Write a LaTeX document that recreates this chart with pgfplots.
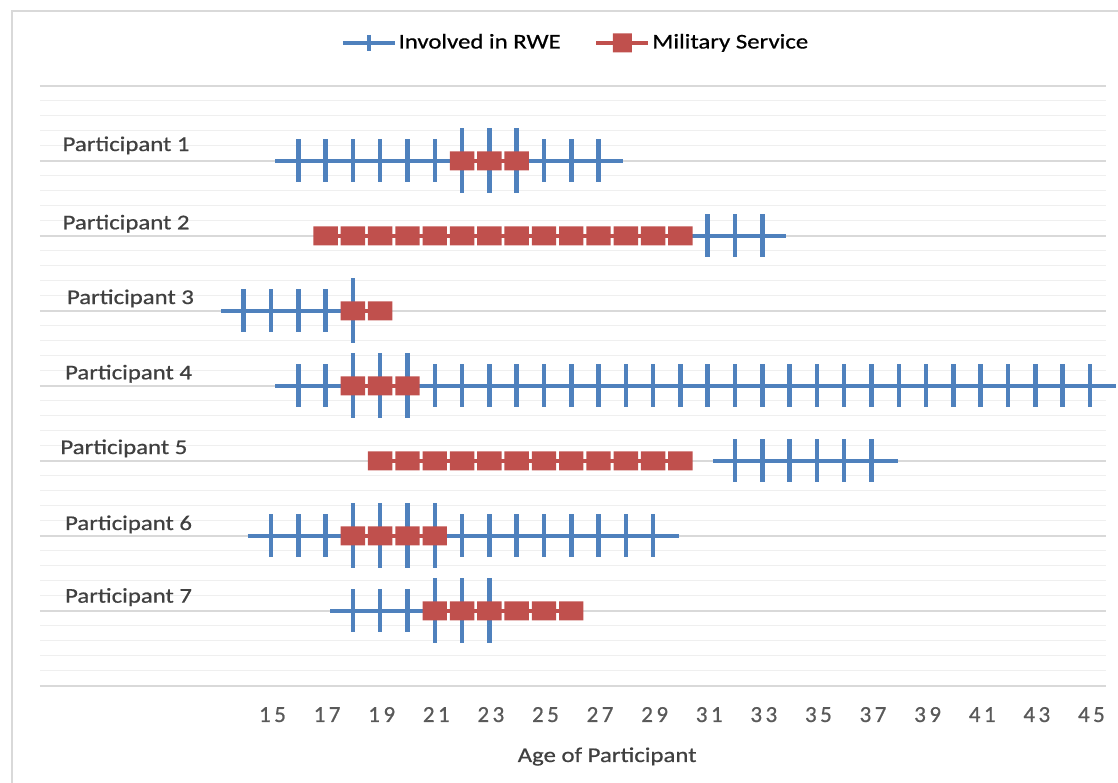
\documentclass[border=0pt]{standalone}
\usepackage{fontspec}
\setmainfont{Carlito}[FakeStretch=1.18,FakeBold=0.7]
\newfontfamily\tickfont{Carlito}[LetterSpace=15,FakeBold=0.7]
\usepackage{pgfplots}
\pgfplotsset{compat=1.18}
\definecolor{bl}{HTML}{4F81BD}
\definecolor{rd}{HTML}{C0504D}
\definecolor{majg}{HTML}{D9D9D9}
\definecolor{ming}{HTML}{EFEFEF}
\definecolor{lab}{HTML}{404040}
\definecolor{tickc}{HTML}{595959}
\pgfdeclareplotmark{rsq}{%
  \pgfsetcornersarced{\pgfpoint{3pt}{3pt}}%
  \pgfpathmoveto{\pgfpoint{0pt}{-9.5pt}}%
  \pgfpathlineto{\pgfpoint{12.2pt}{-9.5pt}}%
  \pgfpathlineto{\pgfpoint{12.2pt}{9.5pt}}%
  \pgfpathlineto{\pgfpoint{-12.2pt}{9.5pt}}%
  \pgfpathlineto{\pgfpoint{-12.2pt}{-9.5pt}}%
  \pgfpathclose
  \pgfusepathqfill}
\pgfdeclareplotmark{rsqL}{%
  \pgfsetcornersarced{\pgfpoint{3pt}{3pt}}%
  \pgfpathmoveto{\pgfpoint{0pt}{-9.5pt}}%
  \pgfpathlineto{\pgfpoint{9.5pt}{-9.5pt}}%
  \pgfpathlineto{\pgfpoint{9.5pt}{9.5pt}}%
  \pgfpathlineto{\pgfpoint{-9.5pt}{9.5pt}}%
  \pgfpathlineto{\pgfpoint{-9.5pt}{-9.5pt}}%
  \pgfpathclose
  \pgfusepathqfill}
\begin{document}
\fontsize{21}{25}\selectfont
\begin{tikzpicture}
\path[use as bounding box] (-40pt,-97pt) rectangle (1078pt,686pt);
\draw[majg, line width=1.2pt] (-28pt,-97pt) -- (-28pt,675pt) -- (1078pt,675pt);
\begin{axis}[
  at={(0pt,0pt)}, anchor=south west,
  scale only axis, width=1066pt, height=600pt,
  xmin=6.538, xmax=45.59, ymin=0, ymax=8,
  clip=false,
  axis line style={draw=none},
  major tick style={draw=none}, minor tick style={draw=none},
  xtick={15,17,...,45},
  ytick={0,...,8}, yticklabels={},
  minor y tick num=4,
  ymajorgrids, yminorgrids,
  major grid style={majg, line width=1.2pt},
  minor grid style={ming, line width=1pt},
  /pgf/number format/assume math mode=true,
  xticklabel style={font=\fontsize{23}{27}\tickfont, text=tickc, anchor=base, yshift=-36pt, xshift=1.5pt},
  xlabel={Age of Participant},
  xlabel style={at={(rel axis cs:0.532,0)}, anchor=base, yshift=-76pt, text=lab},
  legend image code/.code={\draw[mark repeat=2,mark phase=2,#1] plot coordinates {(0pt,0pt)(26pt,0pt)(52pt,0pt)};},
  legend style={draw=none, fill=none, legend columns=2,
    at={(rel axis cs:0.502,1.072)}, anchor=center,
    nodes={inner sep=1.5pt, text=black},
    /tikz/every even column/.append style={column sep=32pt}},
]
\addlegendimage{bl, line width=4.5pt, mark=|, mark size=8pt, mark options={line width=4pt}}
\addlegendentry{Involved in RWE}
\addlegendimage{rd, line width=4.5pt, mark=rsqL}
\addlegendentry{Military Service}

% blue lines (Involved in RWE)
\addplot[bl, line width=4.5pt, forget plot] coordinates {(15.15,7) (27.88,7)};
\addplot[bl, line width=4.5pt, forget plot] coordinates {(30.3,6) (33.88,6)};
\addplot[bl, line width=4.5pt, forget plot] coordinates {(13.16,5) (18.5,5)};
\addplot[bl, line width=4.5pt, forget plot] coordinates {(15.15,4) (45.95,4)};
\addplot[bl, line width=4.5pt, forget plot] coordinates {(31.19,3) (37.97,3)};
\addplot[bl, line width=4.5pt, forget plot] coordinates {(14.14,2) (29.95,2)};
\addplot[bl, line width=4.5pt, forget plot] coordinates {(17.17,1) (21.5,1)};

% blue markers
\addplot[bl, only marks, mark=|, mark size=21.5pt, mark options={line width=4.5pt}, forget plot] coordinates {
(16,7)(17,7)(18,7)(19,7)(20,7)(21,7)(25,7)(26,7)(27,7)
(31,6)(32,6)(33,6)
(14,5)(15,5)(16,5)(17,5)
(16,4)(17,4)(21,4)(22,4)(23,4)(24,4)(25,4)(26,4)(27,4)(28,4)(29,4)(30,4)(31,4)(32,4)(33,4)(34,4)(35,4)(36,4)(37,4)(38,4)(39,4)(40,4)(41,4)(42,4)(43,4)(44,4)(45,4)
(32,3)(33,3)(34,3)(35,3)(36,3)(37,3)
(15,2)(16,2)(17,2)(22,2)(23,2)(24,2)(25,2)(26,2)(27,2)(28,2)(29,2)
(18,1)(19,1)(20,1)
};
% blue markers during military service (taller)
\addplot[bl, only marks, mark=|, mark size=32.5pt, mark options={line width=4.5pt}, forget plot] coordinates {
(22,7)(23,7)(24,7)
(18,5)
(18,4)(19,4)(20,4)
(18,2)(19,2)(20,2)(21,2)
(21,1)(22,1)(23,1)
};

% red (Military Service)
\addplot[rd, line width=4pt, mark=rsq, forget plot] coordinates {(22,7)(23,7)(24,7)};
\addplot[rd, line width=4pt, mark=rsq, forget plot] coordinates {(17,6)(18,6)(19,6)(20,6)(21,6)(22,6)(23,6)(24,6)(25,6)(26,6)(27,6)(28,6)(29,6)(30,6)};
\addplot[rd, line width=4pt, mark=rsq, forget plot] coordinates {(18,5)(19,5)};
\addplot[rd, line width=4pt, mark=rsq, forget plot] coordinates {(18,4)(19,4)(20,4)};
\addplot[rd, line width=4pt, mark=rsq, forget plot] coordinates {(19,3)(20,3)(21,3)(22,3)(23,3)(24,3)(25,3)(26,3)(27,3)(28,3)(29,3)(30,3)};
\addplot[rd, line width=4pt, mark=rsq, forget plot] coordinates {(18,2)(19,2)(20,2)(21,2)};
\addplot[rd, line width=4pt, mark=rsq, forget plot] coordinates {(21,1)(22,1)(23,1)(24,1)(25,1)(26,1)};

% participant labels
\node[anchor=base west, inner sep=0pt, text=lab] at (axis cs:7.36,7.133) {Participant 1};
\node[anchor=base west, inner sep=0pt, text=lab] at (axis cs:7.36,6.089) {Participant 2};
\node[anchor=base west, inner sep=0pt, text=lab] at (axis cs:7.52,5.093) {Participant 3};
\node[anchor=base west, inner sep=0pt, text=lab] at (axis cs:7.45,4.089) {Participant 4};
\node[anchor=base west, inner sep=0pt, text=lab] at (axis cs:7.28,3.093) {Participant 5};
\node[anchor=base west, inner sep=0pt, text=lab] at (axis cs:7.45,2.080) {Participant 6};
\node[anchor=base west, inner sep=0pt, text=lab] at (axis cs:7.45,1.111) {Participant 7};
\end{axis}
\end{tikzpicture}
\end{document}
